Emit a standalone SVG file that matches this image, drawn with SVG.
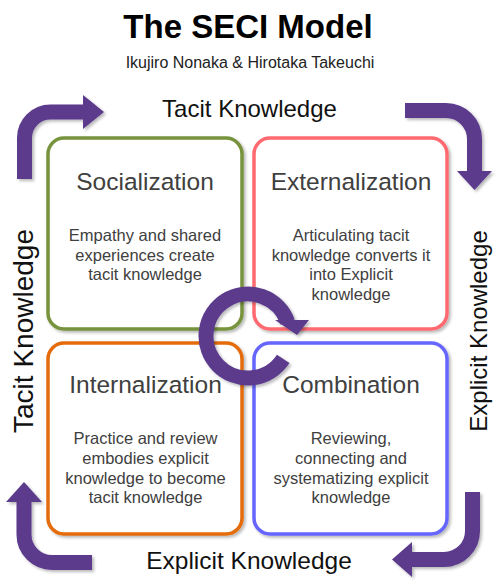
<svg xmlns="http://www.w3.org/2000/svg" width="500" height="587" viewBox="0 0 500 587">
<defs>
<filter id="sh" x="-20%" y="-20%" width="140%" height="140%">
<feDropShadow dx="2" dy="2" stdDeviation="1.8" flood-color="#000" flood-opacity="0.28"/>
</filter>
</defs>
<style>
text{font-family:"Liberation Sans",Arial,sans-serif;text-anchor:middle}
.box{fill:#fff;stroke-width:3.5;filter:url(#sh)}
.ttl{font-size:24.5px;fill:#404040}
.body{font-size:16.5px;fill:#404040}
.axis{fill:#111}
.arr{fill:none;stroke:#5B3A8C;stroke-width:15;stroke-linecap:butt}
.head{fill:#5B3A8C}
.conn{filter:url(#sh)}
</style>
<rect width="500" height="587" fill="#fff"/>
<text x="248" y="38" font-size="33" font-weight="bold" fill="#000">The SECI Model</text>
<text x="250" y="68" font-size="16" fill="#222">Ikujiro Nonaka &amp; Hirotaka Takeuchi</text>
<text class="axis" x="249.5" y="117" font-size="24">Tacit Knowledge</text>
<text class="axis" x="249" y="569" font-size="24.5">Explicit Knowledge</text>
<text class="axis" font-size="28" transform="translate(33,331) rotate(-90)">Tacit Knowledge</text>
<text class="axis" font-size="24" transform="translate(487,331) rotate(-90)">Explicit Knowledge</text>
<g id="socialization">
<rect class="box" x="48" y="138" width="194" height="191" rx="16" stroke="#77933C"/>
<text class="ttl" x="145" y="190">Socialization</text>
<text class="body" x="145" y="241">Empathy and shared</text>
<text class="body" x="145" y="260.7">experiences create</text>
<text class="body" x="145" y="280.4">tacit knowledge</text>
</g>
<g id="externalization">
<rect class="box" x="254" y="138" width="193" height="191" rx="16" stroke="#FF6B70"/>
<text class="ttl" x="351" y="190">Externalization</text>
<text class="body" x="351" y="241">Articulating tacit</text>
<text class="body" x="351" y="260.7">knowledge converts it</text>
<text class="body" x="351" y="280.4">into Explicit</text>
<text class="body" x="351" y="300.1">knowledge</text>
</g>
<g id="internalization">
<rect class="box" x="48" y="343" width="194" height="191" rx="16" stroke="#E46C0A"/>
<text class="ttl" x="145.5" y="393">Internalization</text>
<text class="body" x="145.5" y="444.3">Practice and review</text>
<text class="body" x="145.5" y="464">embodies explicit</text>
<text class="body" x="145.5" y="483.7">knowledge to become</text>
<text class="body" x="145.5" y="503.4">tacit knowledge</text>
</g>
<g id="combination">
<rect class="box" x="254" y="343" width="193" height="191" rx="16" stroke="#6666FF"/>
<text class="ttl" x="351" y="393">Combination</text>
<text class="body" x="351" y="444.3">Reviewing,</text>
<text class="body" x="351" y="464">connecting and</text>
<text class="body" x="351" y="483.7">systematizing explicit</text>
<text class="body" x="351" y="503.4">knowledge</text>
</g>
<g id="connectors" class="conn">
<path class="arr" d="M24.5,179 V138 A26,26 0 0 1 50.5,112 H84"/>
<polygon class="head" points="83,95 104,112 83,129"/>
<path class="arr" d="M405,110.5 H446 A28.5,28.5 0 0 1 474.5,139 V172"/>
<polygon class="head" points="457,171 492,171 474.5,190"/>
<path class="arr" d="M472.5,492 V531 A28.5,28.5 0 0 1 444,559.5 H411"/>
<polygon class="head" points="412,542 412,577 392,559.5"/>
<path class="arr" d="M92,562.5 H52 A28,28 0 0 1 24,534.5 V501"/>
<polygon class="head" points="6,502 42,502 24,482"/>
<path class="arr" d="M283.2,358.9 A42,42 0 1 1 287.6,322"/>
<polygon class="head" points="275,320 309,320 297,335"/>
</g>
</svg>
